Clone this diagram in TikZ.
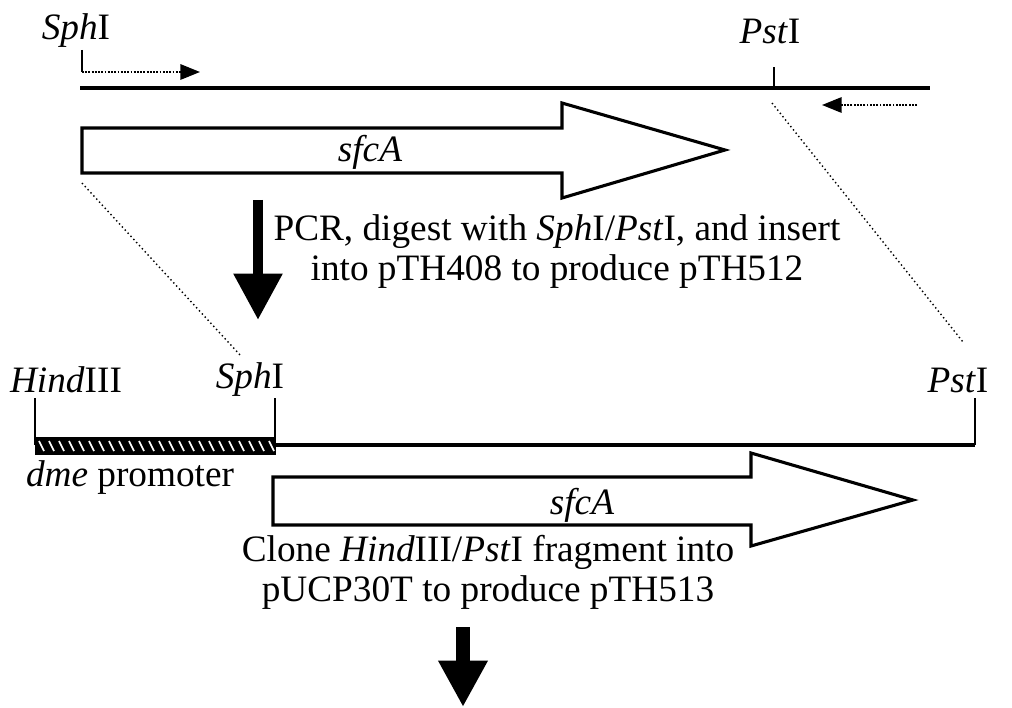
\documentclass[tikz,border=0pt]{standalone}
\usepackage{fontspec}
\setmainfont{Liberation Serif}
\usepackage{tikz}
\usetikzlibrary{arrows.meta,backgrounds,calc,patterns,positioning}

\tikzset{
  lbl/.style={font=\fontsize{26.5}{28.4}\selectfont, inner sep=0pt, align=center},
  dna/.style={line width=2.4pt},
  site/.style={line width=1.5pt},
  gene/.style={line width=2.2pt, fill=white, line join=miter},
  guide/.style={line width=1pt, dotted},
  primer/.style={line width=1.3pt, densely dotted, -{Triangle[length=14pt,width=11pt]}},
  bigarrow/.style={line width=7.5pt, -{Triangle[length=33pt,width=33pt]}}
}

\begin{document}
\begin{tikzpicture}[x=0.025cm,y=-0.025cm]
\useasboundingbox (0,0) rectangle (1012,708);

% sfcA on the chromosome
\node[lbl] (sphA) at (76,31) {\textit{Sph}I};
\node[lbl] (pstA) at (770,31) {\textit{Pst}I};
\coordinate (dnaAl) at (80,88);
\coordinate (dnaAr) at (930,88);
\draw[dna] (dnaAl) -- (dnaAr);
\coordinate (pstAcut) at (774,88);
\coordinate (pstAtop) at (774,67);
\draw[site] (pstAcut) -- (pstAtop);
\coordinate (fwdA) at (82,50);
\coordinate (fwdB) at (82,72);
\coordinate (fwdC) at (200,72);
\draw[site] (fwdA) -- (fwdB);
\draw[primer] (fwdB) -- (fwdC);
\coordinate (revA) at (917,105);
\coordinate (revB) at (822,105);
\draw[primer] (revA) -- (revB);
\draw[gene] (82,128) -- (562,128) -- (562,103) -- (725,150) -- (562,198)
  -- (562,173) -- (82,173) -- cycle;
\node[lbl] (geneA) at (370,152) {\textit{sfcA}};

\coordinate (guideAl) at (82,183);
\coordinate (guideBl) at (240,355);
\coordinate (guideAr) at (772,103);
\coordinate (guideBr) at (963,342);
\draw[guide] (guideAl) -- (guideBl);
\draw[guide] (guideAr) -- (guideBr);

\coordinate (stepAtop) at (258,200);
\coordinate (stepAbot) at (258,320);
\draw[bigarrow] (stepAtop) -- (stepAbot);
\node[lbl] (pcr) at (557,252) {PCR, digest with \textit{Sph}I/\textit{Pst}I, and insert\\
  into pTH408 to produce pTH512};

% pTH512
\node[lbl] (hindB) at (66,380) {\textit{Hind}III};
\node[lbl] (sphB) at (250,380) {\textit{Sph}I};
\node[lbl] (pstB) at (958,380) {\textit{Pst}I};
\draw[site] (35,398) -- (35,445);
\draw[site] (275,398) -- (275,445);
\draw[site] (975,398) -- (975,445);
\coordinate (dnaBl) at (275,445);
\coordinate (dnaBr) at (975,445);
\draw[dna] (dnaBl) -- (dnaBr);
\fill (35,437) rectangle (276,455);
\foreach \x in {39,49,...,269}
  \draw[white, line width=1.2pt] (\x,441) -- ++(5,10);
\node[lbl] (prom) at (130,478) {\textit{dme} promoter};
\draw[gene] (273,477) -- (751,477) -- (751,453) -- (913,500) -- (751,546)
  -- (751,525) -- (273,525) -- cycle;
\node[lbl] (geneB) at (582,505) {\textit{sfcA}};
\node[lbl] (clone) at (488,572) {Clone \textit{Hind}III/\textit{Pst}I fragment into\\
  pUCP30T to produce pTH513};
\coordinate (stepBtop) at (463,627);
\coordinate (stepBbot) at (463,707);
\draw[bigarrow, line width=9.5pt] (stepBtop) -- (stepBbot);
\end{tikzpicture}
\end{document}
